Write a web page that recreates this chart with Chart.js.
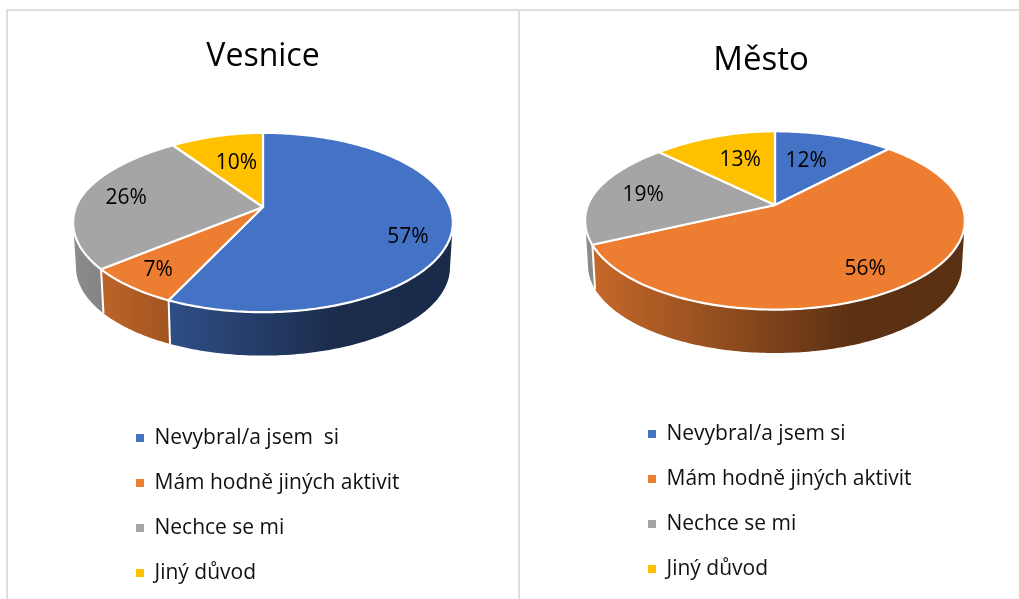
<!DOCTYPE html>
<html><head><meta charset="utf-8">
<style>
html,body{margin:0;padding:0;background:#fff;width:1019px;height:599px;overflow:hidden}
.l{position:absolute;background:#dedede}
canvas{position:absolute;top:0}
</style>
<script src="https://cdn.jsdelivr.net/npm/chart.js@4"></script>
</head><body>
<div class="l" style="left:6px;top:9px;width:1013px;height:2px"></div>
<div class="l" style="left:6px;top:9px;width:2px;height:590px"></div>
<div class="l" style="left:518px;top:9px;width:2px;height:590px"></div>
<canvas id="c1" width="518" height="640" style="left:0"></canvas>
<canvas id="c2" width="500" height="640" style="left:519px"></canvas>
<script>
const titleVesnice = 'Vesnice';
const titleMesto = 'Město';
const categoriesVesnice = ['Nevybral/a jsem  si', 'Mám hodně jiných aktivit', 'Nechce se mi', 'Jiný důvod'];
const categoriesMesto = ['Nevybral/a jsem si', 'Mám hodně jiných aktivit', 'Nechce se mi', 'Jiný důvod'];
const valuesVesnice = [57, 7, 26, 10];
const valuesMesto = [12, 56, 19, 13];
const sliceColors = ['#4472C4', '#ED7D31', '#A5A5A5', '#FFC000'];

const FONT = '"Open Sans"';
function shade(hex, f){
  const n = parseInt(hex.slice(1),16);
  return `rgb(${Math.round((n>>16&255)*f)},${Math.round((n>>8&255)*f)},${Math.round((n&255)*f)})`;
}
const pie3d = {
  id:'pie3d',
  beforeDraw(chart){
    const o = chart.options.plugins.pie3d;
    // the pie is placed by this plugin, so the legend may use the whole canvas width
    chart.legend.right = chart.width + 400;
    chart.titleBlock.left = o.titleX - 200;
    chart.titleBlock.right = o.titleX + 200;
  },
  beforeDatasetDraw(chart){
    const o = chart.options.plugins.pie3d, ctx = chart.ctx;
    const meta = chart.getDatasetMeta(0);
    const P = (a,r=1,bottom=false)=>{
      const u=Math.cos(a), v=Math.sin(a), s=1/(1-o.k*v*r), g=bottom?o.shrink:1;
      const t=(r===1&&v<0&&u<0)?1-o.taper*v*v:1;
      return [o.cx+o.A*g*u*r*s*t, o.cy+o.B*g*v*r*s+(bottom?o.depth:0)];
    };
    const vis0=Math.asin(o.k), vis1=Math.PI-vis0;
    const sweep=(a0,a1,fn)=>{const n=Math.max(2,Math.ceil(Math.abs(a1-a0)*60));for(let i=0;i<=n;i++)fn(a0+(a1-a0)*i/n);};
    const left=o.cx-o.A*1.015, right=o.cx+o.A*1.015;
    ctx.save();
    // front wall of each slice
    meta.data.forEach((arc,i)=>{
      const {startAngle,endAngle}=arc.getProps(['startAngle','endAngle'],true);
      const a0=Math.max(startAngle,vis0), a1=Math.min(endAngle,vis1);
      if(a1<=a0) return;
      const col=sliceColors[i];
      const g=ctx.createLinearGradient(left,0,right,0);
      g.addColorStop(0,shade(col,.85)); g.addColorStop(.7,shade(col,.39)); g.addColorStop(1,shade(col,.38));
      ctx.beginPath();
      sweep(a0,a1,a=>{const p=P(a);ctx.lineTo(p[0],p[1]);});
      sweep(a1,a0,a=>{const p=P(a,1,true);ctx.lineTo(p[0],p[1]);});
      ctx.closePath(); ctx.fillStyle=g; ctx.fill();
    });
    // separators between wall pieces
    ctx.strokeStyle='#fff'; ctx.lineWidth=2;
    meta.data.forEach(arc=>{
      const a=arc.getProps(['startAngle'],true).startAngle;
      if(a>vis0&&a<vis1){const p=P(a),q=P(a,1,true);ctx.beginPath();ctx.moveTo(p[0],p[1]);ctx.lineTo(q[0],q[1]);ctx.stroke();}
    });
    // top face
    meta.data.forEach((arc,i)=>{
      const {startAngle,endAngle}=arc.getProps(['startAngle','endAngle'],true);
      ctx.beginPath(); ctx.moveTo(o.cx,o.cy);
      sweep(startAngle,endAngle,a=>{const p=P(a);ctx.lineTo(p[0],p[1]);});
      ctx.closePath(); ctx.fillStyle=sliceColors[i]; ctx.fill();
      ctx.lineJoin='round'; ctx.strokeStyle='#fff'; ctx.lineWidth=2.2; ctx.stroke();
    });
    // value labels
    ctx.fillStyle='#000'; ctx.font=`${o.labelSize}px ${FONT}`; ctx.textAlign='center'; ctx.textBaseline='middle';
    meta.data.forEach((arc,i)=>{
      const {startAngle,endAngle}=arc.getProps(['startAngle','endAngle'],true);
      const p=P((startAngle+endAngle)/2,.75);
      ctx.fillText(chart.data.datasets[0].data[i]+'%',p[0]+o.nudge[i][0],p[1]+o.nudge[i][1]);
    });
    ctx.restore();
    return false;
  }
};
function make(id,title,labels,values,geo,legendLeft,titleTop,titleSize,legendBottom){
  return new Chart(document.getElementById(id),{
    type:'pie',
    data:{labels,datasets:[{data:values,backgroundColor:sliceColors,borderWidth:0}]},
    plugins:[pie3d],
    options:{
      responsive:false,animation:false,
      layout:{padding:{left:legendLeft,top:0,bottom:legendBottom,right:0}},
      plugins:{
        pie3d:geo,
        tooltip:{enabled:false},
        title:{display:true,text:title,color:'#000',align:'center',font:{family:FONT,size:titleSize,weight:'normal'},padding:{top:titleTop,bottom:0}},
        legend:{position:'left',align:'end',
          labels:{boxWidth:8,boxHeight:8,padding:24,color:'#111',font:{family:FONT,size:21}}}
      }
    }
  });
}
make('c1',titleVesnice,categoriesVesnice,valuesVesnice,
  {titleX:263,cx:263,cy:207,A:187,B:87,k:.173,taper:.1,depth:45,shrink:.985,labelSize:21,
   nudge:[[4,15],[-9,6],[0,-1],[12,11]]},112,38,32,32.5);
make('c2',titleMesto,categoriesMesto,valuesMesto,
  {titleX:761-519,cx:775-519,cy:205,A:187,B:86.5,k:.173,taper:.1,depth:45,shrink:.985,labelSize:21,
   nudge:[[-15,10],[-2,5],[4,0],[15,8]]},105,41,33,36.5);
</script>
</body></html>
